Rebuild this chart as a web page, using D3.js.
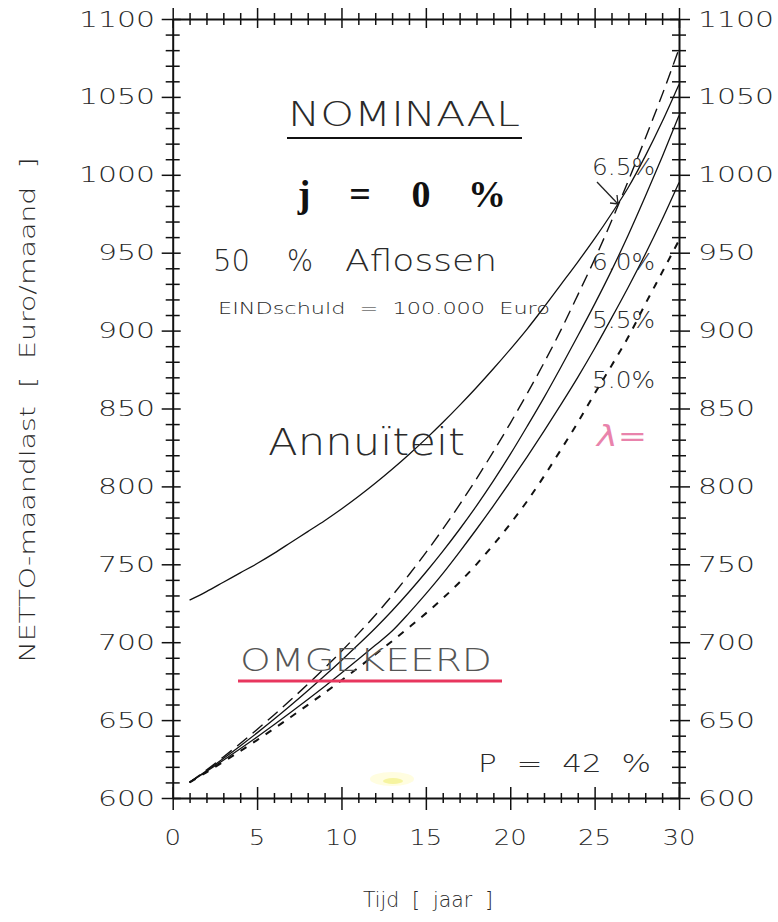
<!DOCTYPE html>
<html><head><meta charset="utf-8">
<script src="https://cdn.jsdelivr.net/npm/d3@7"></script>
<style>
html,body{margin:0;padding:0;background:#fff;}
svg{display:block;font-family:"DejaVu Sans",sans-serif;font-weight:200;}
</style></head>
<body>
<svg id="c" width="778" height="922"></svg>
<script>
// ---- data ----
const years = d3.range(1, 31);
const annuiteit = [727,732.5,738.5,744.5,750.5,757,764,771,778,785.5,793.5,802,811,820.5,830.5,841,852,863.5,875.5,888,901,915,929.5,944,959,975,992,1012,1034,1058];
const omgekeerd65 = [610,618,626.3,635,644,653.3,663,673,683.4,694.2,705.5,717.3,729.9,743.3,757.5,772.5,788.3,804.9,822.3,840.5,859.5,879.3,900.3,922.8,945.8,970.3,996.3,1023.3,1051.3,1080.8];
const omgekeerd60 = [610,617.5,625.3,633.4,641.8,650.5,659.5,668.8,678.4,688.3,698.5,709,720.2,732.2,744.9,758.3,772.5,787.5,803.5,820.5,838.5,857,876.5,896.5,917,938.5,961.5,986,1011.5,1038];
const omgekeerd55 = [610,617,624.2,631.6,639.2,647,655,663.2,671.6,680.2,689,698,707.2,718.7,731,744,758,772.5,787.5,803,819,835.5,852.5,870,888.5,908,928,949,971.3,995];
const omgekeerd50 = [610,616.5,623.2,630.1,637.2,644.5,652,659.7,667.5,675.5,683.7,692.1,700.7,709.5,718.5,728.1,738.5,750,762.5,776,790.5,806.5,823.5,841,859.5,877.5,896,917,937.4,958];
const rateLabels = ["6.5%","6.0%","5.5%","5.0%"];
const xTicks = [0,5,10,15,20,25,30];
const yTicks = [600,650,700,750,800,850,900,950,1000,1050,1100];

const svg = d3.select("#c");
const x = d3.scaleLinear().domain([0,30]).range([172.7,679]);
const y = d3.scaleLinear().domain([600,1100]).range([798,19]);

// ---- axes (ticks crossing the frame) ----
function styleAxis(g, isMajor, inner, outer, majInner, majOuter, horiz) {
  g.select(".domain").attr("stroke","#111").attr("stroke-width",2);
  g.selectAll(".tick line").attr("stroke","#111").attr("stroke-width",1.5)
    .each(function(d){
      const m = isMajor(d);
      const a = m ? majOuter : outer, b = m ? majInner : inner;
      if (horiz) d3.select(this).attr("y1",a).attr("y2",b);
      else d3.select(this).attr("x1",a).attr("x2",b);
    });
  g.selectAll(".tick text").remove();
}
const xMinor = d3.range(0,31,1), yMinor = d3.range(600,1101,10);
const isX = d => d % 5 === 0, isY = d => d % 50 === 0;

svg.append("g").attr("transform",`translate(0,${y(600)})`)
  .call(d3.axisBottom(x).tickValues(xMinor).tickSizeOuter(0))
  .call(g=>styleAxis(g,isX,-5,5,-11,12,true));
svg.append("g").attr("transform",`translate(0,${y(1100)})`)
  .call(d3.axisTop(x).tickValues(xMinor).tickSizeOuter(0))
  .call(g=>styleAxis(g,isX,6,-6,9,-11,true));
svg.append("g").attr("transform",`translate(${x(0)},0)`)
  .call(d3.axisLeft(y).tickValues(yMinor).tickSizeOuter(0))
  .call(g=>styleAxis(g,isY,7,-7,8,-11,false));
svg.append("g").attr("transform",`translate(${x(30)},0)`)
  .call(d3.axisRight(y).tickValues(yMinor).tickSizeOuter(0))
  .call(g=>styleAxis(g,isY,-7,7,-9,11,false));

// tick labels
const ink = "#2a2a2a";
svg.append("g").selectAll("text").data(yTicks).join("text")
  .attr("x",155).attr("y",d=>y(d)+7.5).attr("text-anchor","end")
  .attr("font-size",20.5).attr("fill",ink)
  .attr("textLength",d=>String(d).length*19).attr("lengthAdjust","spacingAndGlyphs")
  .text(d=>d);
svg.append("g").selectAll("text").data(yTicks).join("text")
  .attr("x",698).attr("y",d=>y(d)+7.5).attr("text-anchor","start")
  .attr("font-size",20.5).attr("fill",ink)
  .attr("textLength",d=>String(d).length*19).attr("lengthAdjust","spacingAndGlyphs")
  .text(d=>d);
svg.append("g").selectAll("text").data(xTicks).join("text")
  .attr("x",d=>x(d)).attr("y",845).attr("text-anchor","middle")
  .attr("font-size",22).attr("fill",ink)
  .attr("textLength",d=>String(d).length*16.5).attr("lengthAdjust","spacingAndGlyphs")
  .text(d=>d);

// axis titles
svg.append("text").attr("transform","translate(35,410) rotate(-90)")
  .attr("text-anchor","middle").attr("font-size",22).attr("fill",ink)
  .attr("textLength",505).attr("lengthAdjust","spacingAndGlyphs")
  .attr("xml:space","preserve").text("NETTO-maandlast  [  Euro/maand  ]");
svg.append("text").attr("x",428).attr("y",907)
  .attr("text-anchor","middle").attr("font-size",22).attr("fill",ink)
  .attr("textLength",130).attr("lengthAdjust","spacingAndGlyphs")
  .attr("xml:space","preserve").text("Tijd  [  jaar  ]");

// ---- decorations (yellow smudge) ----
svg.append("ellipse").attr("cx",392).attr("cy",779).attr("rx",22).attr("ry",7).attr("fill","#fffde0");
svg.append("ellipse").attr("cx",393).attr("cy",781).attr("rx",10).attr("ry",3).attr("fill","#f6f4a0");

// ---- curves ----
const line = d3.line().x((d,i)=>x(years[i])).y(d=>y(d)).curve(d3.curveMonotoneX);
const series = [
  {v: annuiteit, dash: null, w: 1.3},
  {v: omgekeerd65, dash: "13,7", w: 1.4},
  {v: omgekeerd60, dash: null, w: 1.3},
  {v: omgekeerd55, dash: null, w: 1.3},
  {v: omgekeerd50, dash: "7,8", w: 2}
];
svg.append("g").selectAll("path").data(series).join("path")
  .attr("d",d=>line(d.v)).attr("fill","none").attr("stroke","#111")
  .attr("stroke-width",d=>d.w).attr("stroke-dasharray",d=>d.dash);

// ---- annotations ----
function txt(t, x0, yb, size, len, opts={}) {
  const e = svg.append("text").attr("x",x0).attr("y",yb).attr("font-size",size)
    .attr("fill",opts.fill||ink).attr("xml:space","preserve").text(t);
  if (len) e.attr("textLength",len).attr("lengthAdjust","spacingAndGlyphs");
  if (opts.family) e.attr("font-family",opts.family);
  if (opts.weight) e.attr("font-weight",opts.weight);
  if (opts.style) e.attr("font-style",opts.style);
  if (opts.anchor) e.attr("text-anchor",opts.anchor);
  if (opts.opacity) e.attr("opacity",opts.opacity);
  return e;
}
txt("NOMINAAL",288,126,34,232);
svg.append("line").attr("x1",287).attr("x2",522).attr("y1",138).attr("y2",138).attr("stroke","#111").attr("stroke-width",2);
const serif = "Liberation Serif";
txt("j",304,207,38,null,{family:serif,weight:"bold",anchor:"middle",fill:"#111"});
txt("=",360,207,38,null,{family:serif,weight:"bold",anchor:"middle",fill:"#111"});
txt("0",421,207,38,null,{family:serif,weight:"bold",anchor:"middle",fill:"#111"});
txt("%",487,207,38,null,{family:serif,weight:"bold",anchor:"middle",fill:"#111"});
txt("50",213,271,30,37);
txt("%",287,271,30,26);
txt("Aflossen",345,271,30,152);
txt("EINDschuld  =  100.000  Euro",218,314,16,332);
txt("Annuïteit",268,455,37,197);
txt("OMGEKEERD",240,671,32,252,{fill:"#555"});
svg.append("line").attr("x1",238).attr("x2",502).attr("y1",681).attr("y2",681).attr("stroke","#e8365e").attr("stroke-width",3);
txt("P  =  42  %",478,772,25,173);
const labelY = [175,270,328,388];
rateLabels.forEach((l,i)=>txt(l,592,labelY[i],23,63));
// arrow to 6.5% curve
const ag = svg.append("g").attr("stroke","#222").attr("stroke-width",1.3).attr("fill","none");
ag.append("line").attr("x1",597).attr("y1",182).attr("x2",618).attr("y2",204);
ag.append("path").attr("d","M610,203 L618,204 L617,195");
// pink handwritten lambda
txt("λ=",597,446,28,50,{fill:"#e0508a",style:"italic",opacity:0.7});
</script>
</body></html>
